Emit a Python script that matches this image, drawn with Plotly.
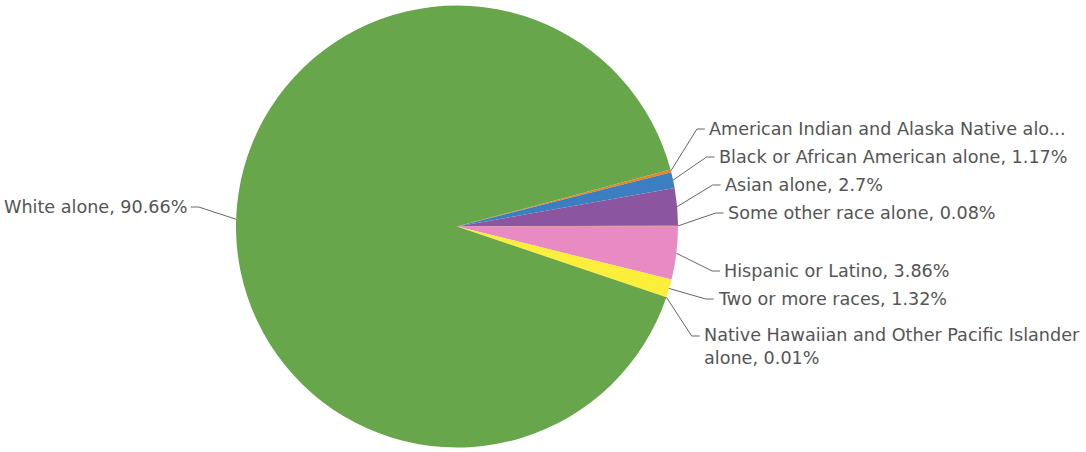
import math
import plotly.graph_objects as go

# ---- data ----
categories = [
    "American Indian and Alaska Native alone",
    "Black or African American alone",
    "Asian alone",
    "Some other race alone",
    "Hispanic or Latino",
    "Two or more races",
    "Native Hawaiian and Other Pacific Islander alone",
    "White alone",
]
percent = [0.20, 1.17, 2.70, 0.08, 3.86, 1.32, 0.01, 90.66]
display_labels = [
    "American Indian and Alaska Native alo...",
    "Black or African American alone, 1.17%",
    "Asian alone, 2.7%",
    "Some other race alone, 0.08%",
    "Hispanic or Latino, 3.86%",
    "Two or more races, 1.32%",
    "Native Hawaiian and Other Pacific Islander<br>alone, 0.01%",
    "White alone, 90.66%",
]

# ---- styling / layout ----
colors = ["#f0821e", "#3b7fc0", "#8b55a0", "#a65628", "#e88bc3", "#fbef3b", "#999999", "#67a64a"]
W, H = 1086, 452
cx, cy, R = 457, 226.5, 221
R_label = 259
label_y_px = [129, 157, 185, 213, 271, 299, 336, 207]  # elbow y (layout)
text_dy_px = [0, 0, 0, 0, 0, 0, 10, 0]
font_family = "DejaVu Sans"
font_size = 17.6
text_color = "#555555"
line_color = "#666666"

total = sum(percent)
# Start so that "Hispanic or Latino" begins at 3 o'clock
before = sum(percent[:categories.index("Hispanic or Latino")])
rotation = 90 - 360 * before / total

fig = go.Figure(go.Pie(
    labels=categories,
    values=percent,
    sort=False,
    direction="clockwise",
    rotation=rotation,
    marker=dict(colors=colors, line=dict(width=0)),
    textinfo="none",
    hoverinfo="label+percent",
    showlegend=False,
    domain=dict(x=[(cx - R) / W, (cx + R) / W], y=[1 - (cy + R) / H, 1 - (cy - R) / H]),
))


def px_to_paper(x, y):
    return x / W, 1 - y / H


shapes = []
annotations = []
cum = 0.0
for i, v in enumerate(percent):
    mid = rotation + 360 * (cum + v / 2) / total
    cum += v
    a = math.radians(mid)
    ex = cx + R * math.sin(a)
    ey = cy - R * math.cos(a)
    ly = label_y_px[i]
    side = 1 if math.sin(a) >= 0 else -1
    lx = cx + side * math.sqrt(max(R_label ** 2 - (ly - cy) ** 2, 0))
    hx = lx + side * 8
    p0 = px_to_paper(ex, ey)
    p1 = px_to_paper(lx, ly)
    p2 = px_to_paper(hx, ly)
    shapes.append(dict(
        type="path", xref="paper", yref="paper",
        path=f"M {p0[0]},{p0[1]} L {p1[0]},{p1[1]} L {p2[0]},{p2[1]}",
        line=dict(color=line_color, width=1),
    ))
    tx, ty = px_to_paper(hx + side * 2, ly + text_dy_px[i])
    annotations.append(dict(
        x=tx, y=ty, xref="paper", yref="paper",
        text=display_labels[i], showarrow=False,
        xanchor="left" if side > 0 else "right", yanchor="middle",
        align="left",
        font=dict(family=font_family, size=font_size, color=text_color),
    ))

fig.update_layout(
    width=W, height=H, autosize=False,
    margin=dict(l=0, r=0, t=0, b=0),
    paper_bgcolor="white", plot_bgcolor="white",
    shapes=shapes, annotations=annotations,
)

fig.write_html(
    "out.html",
    config={"displayModeBar": False},
    post_script="document.body.style.margin='0px';document.body.style.overflow='hidden';",
)
